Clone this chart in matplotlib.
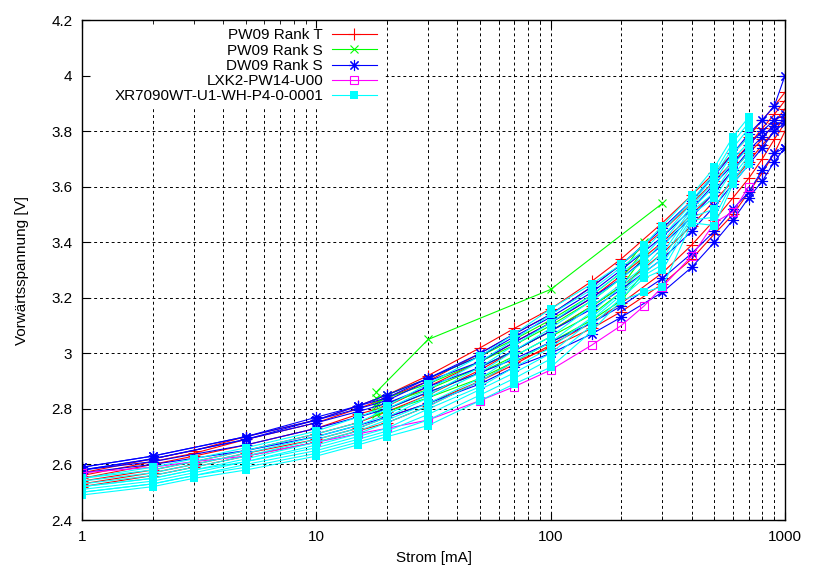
import matplotlib
matplotlib.use('Agg')
import matplotlib.pyplot as plt
from matplotlib.patches import Rectangle
from matplotlib.ticker import FixedLocator, FuncFormatter, LogLocator, NullFormatter

plt.rcParams['font.family'] = ['Liberation Sans', 'DejaVu Sans']
plt.rcParams['font.size'] = 11

# PW09 Rank T (rot)
i_red = [1, 2, 3, 5, 10, 15, 20, 30, 50, 70, 100, 150, 200, 300, 400, 500, 600, 700, 800, 900, 1000]
u_red = [
    [2.57, 2.62, 2.65, 2.70, 2.76, 2.81, 2.85, 2.92, 3.02, 3.09, 3.16, 3.26, 3.34, 3.47, 3.57, 3.65, 3.72, 3.78, 3.84, 3.89, 3.94],
    [2.56, 2.61, 2.64, 2.69, 2.75, 2.80, 2.84, 2.90, 3.00, 3.07, 3.14, 3.24, 3.32, 3.44, 3.54, 3.62, 3.69, 3.75, 3.81, 3.86, 3.91],
    [2.55, 2.60, 2.63, 2.67, 2.73, 2.78, 2.81, 2.88, 2.97, 3.04, 3.11, 3.20, 3.28, 3.40, 3.50, 3.58, 3.66, 3.72, 3.77, 3.83, 3.88],
    [2.54, 2.58, 2.61, 2.65, 2.71, 2.75, 2.79, 2.85, 2.94, 3.01, 3.08, 3.17, 3.24, 3.36, 3.46, 3.55, 3.62, 3.69, 3.75, 3.80, 3.85],
    [2.52, 2.56, 2.59, 2.63, 2.68, 2.72, 2.75, 2.81, 2.90, 2.96, 3.03, 3.11, 3.18, 3.29, 3.39, 3.48, 3.56, 3.63, 3.70, 3.77, 3.83],
    [2.53, 2.57, 2.60, 2.64, 2.69, 2.73, 2.77, 2.82, 2.90, 2.97, 3.02, 3.09, 3.15, 3.25, 3.34, 3.43, 3.50, 3.58, 3.65, 3.72, 3.80],
]

# PW09 Rank S (gruen)
i_green = [18, 20, 30, 50, 70, 100, 150, 200, 250]
u_green = [
    [2.84, 2.85, 2.91, 2.99, 3.05, 3.12, 3.21, 3.29, 3.40],
    [2.82, 2.84, 2.89, 2.97, 3.03, 3.10, 3.19, 3.27, 3.37],
    [2.81, 2.82, 2.87, 2.95, 3.01, 3.08, 3.17, 3.24, 3.35],
    [2.79, 2.80, 2.86, 2.93, 2.99, 3.06, 3.14, 3.22, 3.32],
    [2.78, 2.79, 2.84, 2.91, 2.97, 3.04, 3.12, 3.19, 3.29],
]
i_green_out = [18, 30, 100, 300]
u_green_out = [2.86, 3.05, 3.23, 3.54]

# DW09 Rank S (blau)
i_blue = [1, 2, 5, 10, 15, 20, 30, 50, 70, 100, 150, 200, 300, 400, 500, 600, 700, 800, 900, 1000]
u_blue = [
    [2.59, 2.63, 2.70, 2.77, 2.81, 2.85, 2.91, 3.00, 3.07, 3.14, 3.24, 3.32, 3.45, 3.55, 3.64, 3.72, 3.79, 3.84, 3.89, 4.00],
    [2.59, 2.63, 2.70, 2.76, 2.81, 2.84, 2.91, 2.99, 3.06, 3.13, 3.22, 3.30, 3.42, 3.52, 3.61, 3.68, 3.75, 3.80, 3.84, 3.86],
    [2.58, 2.62, 2.69, 2.76, 2.80, 2.83, 2.90, 2.97, 3.04, 3.11, 3.20, 3.27, 3.39, 3.49, 3.58, 3.66, 3.73, 3.78, 3.82, 3.84],
    [2.58, 2.62, 2.69, 2.75, 2.79, 2.82, 2.88, 2.95, 3.01, 3.08, 3.16, 3.23, 3.34, 3.44, 3.53, 3.61, 3.68, 3.74, 3.80, 3.83],
    [2.58, 2.61, 2.67, 2.73, 2.77, 2.80, 2.86, 2.93, 2.98, 3.04, 3.11, 3.17, 3.27, 3.36, 3.44, 3.52, 3.58, 3.66, 3.72, 3.74],
    [2.57, 2.60, 2.65, 2.70, 2.74, 2.77, 2.82, 2.89, 2.95, 3.00, 3.07, 3.13, 3.22, 3.31, 3.40, 3.48, 3.56, 3.62, 3.69, 3.74],
]

# LXK2-PW14-U00 (magenta)
i_mag = [1, 2, 3, 5, 10, 15, 20, 30, 50, 70, 100, 150, 200, 250, 300, 400, 500, 600, 700]
u_mag = [2.57, 2.59, 2.61, 2.63, 2.68, 2.71, 2.73, 2.76, 2.83, 2.88, 2.94, 3.03, 3.10, 3.17, 3.24, 3.35, 3.47, 3.51, 3.60]

# XR7090WT-U1-WH-P4-0-0001 (cyan)
i_cyan = [1, 2, 3, 5, 10, 15, 20, 30, 50, 70, 100, 150, 200, 250, 300, 400, 500, 600, 700]
u_cyan = [
    [2.55, 2.59, 2.62, 2.66, 2.72, 2.77, 2.81, 2.89, 2.99, 3.07, 3.16, 3.25, 3.32, 3.39, 3.46, 3.57, 3.67, 3.78, 3.85],
    [2.55, 2.58, 2.61, 2.65, 2.71, 2.75, 2.80, 2.87, 2.97, 3.05, 3.14, 3.23, 3.31, 3.37, 3.44, 3.55, 3.65, 3.76, 3.83],
    [2.54, 2.57, 2.60, 2.64, 2.70, 2.74, 2.78, 2.85, 2.95, 3.03, 3.11, 3.21, 3.29, 3.35, 3.42, 3.54, 3.64, 3.74, 3.81],
    [2.53, 2.56, 2.59, 2.63, 2.69, 2.73, 2.77, 2.84, 2.93, 3.01, 3.09, 3.19, 3.27, 3.33, 3.40, 3.53, 3.62, 3.72, 3.78],
    [2.52, 2.55, 2.58, 2.62, 2.68, 2.72, 2.76, 2.82, 2.91, 2.99, 3.06, 3.17, 3.25, 3.31, 3.38, 3.52, 3.60, 3.70, 3.76],
    [2.52, 2.55, 2.58, 2.61, 2.67, 2.71, 2.75, 2.81, 2.90, 2.97, 3.04, 3.15, 3.24, 3.30, 3.36, 3.51, 3.58, 3.68, 3.74],
    [2.51, 2.54, 2.57, 2.61, 2.66, 2.70, 2.73, 2.80, 2.88, 2.95, 3.02, 3.13, 3.22, 3.29, 3.34, 3.50, 3.56, 3.66, 3.72],
    [2.50, 2.53, 2.56, 2.60, 2.65, 2.69, 2.72, 2.78, 2.87, 2.93, 3.00, 3.12, 3.21, 3.28, 3.32, 3.49, 3.52, 3.64, 3.71],
    [2.50, 2.53, 2.56, 2.59, 2.64, 2.68, 2.71, 2.76, 2.85, 2.91, 2.98, 3.10, 3.20, 3.27, 3.30, 3.48, 3.49, 3.62, 3.70],
    [2.49, 2.52, 2.55, 2.58, 2.63, 2.67, 2.70, 2.74, 2.83, 2.89, 2.95, 3.08, 3.19, 3.22, 3.24, 3.47, 3.46, 3.61, 3.68],
]

y_ticks = [2.4, 2.6, 2.8, 3.0, 3.2, 3.4, 3.6, 3.8, 4.0, 4.2]

fig = plt.figure(figsize=(8.13, 5.70), dpi=100)
rect = [82/813, 50/570, 703/813, 500/570]
# grid on a separate axes underneath, so the key area can blank it
ax_bg = fig.add_axes(rect, zorder=0)
ax = fig.add_axes(rect, sharex=ax_bg, sharey=ax_bg, zorder=1)
ax.patch.set_visible(False)

lw = 0.8
for k, u in enumerate(u_red):
    ax.plot(i_red, u, color='#ff0000', lw=lw, marker='+', ms=9, mew=lw,
            label='PW09 Rank T' if k == 0 else None)
for k, u in enumerate(u_green):
    ax.plot(i_green, u, color='#00ff00', lw=lw, marker='x', ms=6, mew=lw,
            label='PW09 Rank S' if k == 0 else None)
ax.plot(i_green_out, u_green_out, color='#00ff00', lw=lw, marker='x', ms=6, mew=lw)
for k, u in enumerate(u_blue):
    ax.plot(i_blue, u, color='#0000ff', lw=lw, marker=(8, 2, 0), ms=8, mew=lw,
            label='DW09 Rank S' if k == 0 else None)
ax.plot(i_mag, u_mag, color='#ff00ff', lw=lw, marker='s', ms=6, mfc='none', mew=lw,
        label='LXK2-PW14-U00')
for k, u in enumerate(u_cyan):
    ax.plot(i_cyan, u, color='#00ffff', lw=lw, marker='s', ms=6, mew=0,
            label='XR7090WT-U1-WH-P4-0-0001' if k == 0 else None)

ax.set_xscale('log')
ax.set_xlim(1, 1000)
ax.set_ylim(2.4, 4.2)
ax.xaxis.set_major_locator(FixedLocator([1, 10, 100, 1000]))
ax.xaxis.set_major_formatter(FuncFormatter(lambda v, p: '%g' % v))
ax.xaxis.set_minor_locator(LogLocator(base=10, subs=range(2, 10)))
ax.xaxis.set_minor_formatter(NullFormatter())
ax.yaxis.set_major_locator(FixedLocator(y_ticks))
ax.yaxis.set_major_formatter(FuncFormatter(lambda v, p: '%g' % round(v, 1)))

ax.tick_params(which='both', direction='in', top=True, right=True, color='black')
ax.tick_params(which='major', length=6, pad=7)
ax.tick_params(which='minor', length=3)
for s in ax.spines.values():
    s.set_linewidth(1.0)

ax_bg.grid(True, which='major', axis='both', color='black', lw=0.7, ls=(0, (3, 3)))
ax_bg.grid(True, which='minor', axis='x', color='black', lw=0.7, ls=(0, (3, 3)))
ax_bg.tick_params(which='both', length=0, labelbottom=False, labelleft=False)
for s in ax_bg.spines.values():
    s.set_visible(False)

# white area behind the key
ax.add_patch(Rectangle((0, 0.826), 0.431, 0.174, transform=ax.transAxes,
                       facecolor='white', edgecolor='none', zorder=0.1))

ax.set_xlabel('Strom [mA]', labelpad=5)
ax.set_ylabel('Vorwärtsspannung [V]', labelpad=16)

ax.legend(loc='upper right', bbox_to_anchor=(0.431, 1.0), frameon=False,
          markerfirst=False, numpoints=1, handlelength=2.9, handletextpad=0.6,
          labelspacing=0.08, borderpad=0.55, borderaxespad=0, fontsize=11)

fig.savefig('out.png', dpi=100)
